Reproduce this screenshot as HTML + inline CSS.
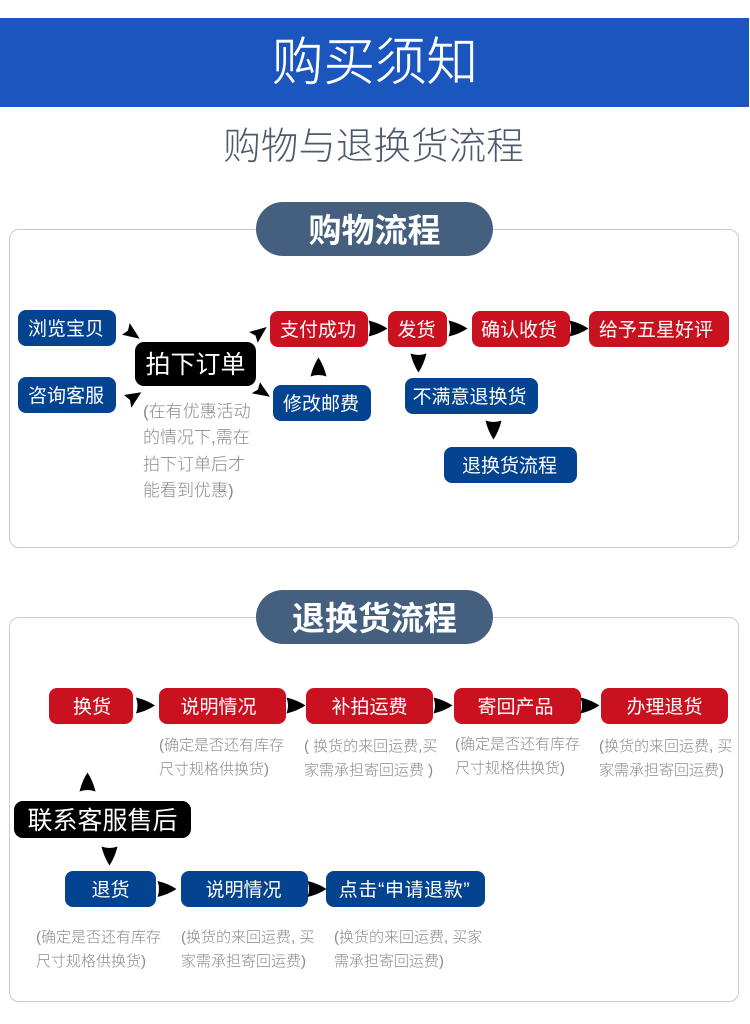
<!DOCTYPE html>
<html lang="zh">
<head>
<meta charset="utf-8">
<style>
html,body{margin:0;padding:0;background:#fff}
body{width:750px;height:1024px;position:relative;overflow:hidden;font-family:"Liberation Sans","Noto Sans CJK SC",sans-serif}
div{position:absolute;box-sizing:border-box}
.n{color:#fff;text-align:center;white-space:nowrap;border-radius:8px;font-size:19px;height:36px;line-height:39px}
.r{background:#c91120}
.b{background:#044390}
.k{background:#000;font-size:25px;border-radius:9px}
.p{left:256px;width:237px;height:54px;border-radius:27px;background:#455f7e;color:#fff;font-size:33px;font-weight:700;text-align:center;line-height:57px}
.f{left:9px;width:730px;border:1px solid #c3ccd3;border-radius:10px}
.t{color:#8a8a8a;font-size:15px;line-height:24px;white-space:nowrap;font-weight:300}
svg{position:absolute;left:0;top:0}
</style>
</head>
<body>
<div style="left:0;top:18px;width:749px;height:89px;background:#1a56be"></div>
<div style="left:0;top:18px;width:750px;height:86px;line-height:88px;text-align:center;color:#fff;font-size:51.500px;font-weight:300;-webkit-text-stroke:.4px #fff">购买须知</div>
<div style="left:0;top:121px;width:747px;height:50px;line-height:50px;text-align:center;color:#4c5a6b;font-size:37.6px;font-weight:300">购物与退换货流程</div>

<div class="f" style="top:229px;height:319px"></div>
<div class="f" style="top:617px;height:385px"></div>
<div class="p" style="top:202px">购物流程</div>
<div class="p" style="top:590px">退换货流程</div>

<div class="n b" style="left:18px;top:310px;width:98px;padding-right:2px">浏览宝贝</div>
<div class="n b" style="left:18px;top:377px;width:98px;padding-right:2px">咨询客服</div>
<div class="n k" style="left:135px;top:342px;width:121px;height:44px;line-height:47px">拍下订单</div>
<div class="n r" style="left:270px;top:311px;width:98px;padding-right:2px">支付成功</div>
<div class="n b" style="left:273px;top:385px;width:98px;padding-right:2px">修改邮费</div>
<div class="n r" style="left:388px;top:311px;width:59px;padding-right:2px">发货</div>
<div class="n r" style="left:472px;top:311px;width:98px;padding-right:4px">确认收货</div>
<div class="n r" style="left:589px;top:311px;width:140px;padding-right:6px">给予五星好评</div>
<div class="n b" style="left:405px;top:378px;width:133px;padding-right:4px">不满意退换货</div>
<div class="n b" style="left:444px;top:447px;width:133px;padding-right:2px">退换货流程</div>

<div class="t" style="left:143px;top:399px;font-size:17px;line-height:26.3px">(在有优惠活动<br>的情况下,需在<br>拍下订单后才<br>能看到优惠)</div>

<div class="n r" style="left:49px;top:688px;width:84px;padding-left:2px">换货</div>
<div class="n r" style="left:159px;top:688px;width:127px;padding-right:8px">说明情况</div>
<div class="n r" style="left:306px;top:688px;width:127px">补拍运费</div>
<div class="n r" style="left:454px;top:688px;width:127px;padding-right:4px">寄回产品</div>
<div class="n r" style="left:601px;top:688px;width:127px">办理退货</div>
<div class="n k" style="left:14px;top:801px;width:177px;height:37px;line-height:40px">联系客服售后</div>
<div class="n b" style="left:65px;top:871px;width:91px">退货</div>
<div class="n b" style="left:181px;top:871px;width:127px;padding-right:2px">说明情况</div>
<div class="n b" style="left:326px;top:871px;width:159px;padding-right:2px;letter-spacing:.6px">点击“申请退款”</div>

<div class="t" style="left:159px;top:734px">(确定是否还有库存<br>尺寸规格供换货)</div>
<div class="t" style="left:304px;top:735px">( 换货的来回运费,买<br>家需承担寄回运费 )</div>
<div class="t" style="left:455px;top:733px">(确定是否还有库存<br>尺寸规格供换货)</div>
<div class="t" style="left:599px;top:735px">(换货的来回运费, 买<br>家需承担寄回运费)</div>
<div class="t" style="left:36px;top:926px">(确定是否还有库存<br>尺寸规格供换货)</div>
<div class="t" style="left:181px;top:926px">(换货的来回运费, 买<br>家需承担寄回运费)</div>
<div class="t" style="left:334px;top:926px">(换货的来回运费, 买家<br>需承担寄回运费)</div>

<svg width="750" height="1024" viewBox="0 0 750 1024" fill="#000">
<defs><path id="a" d="M-9.500,-8 Q1,-5.500 9.500,0 Q1,5.500 -9.500,8 Q-6.500,0 -9.500,-8 Z"/></defs>
<polygon points="139.700,338.700 129.700,323 128,330.500 122,334.700"/>
<polygon points="141.300,392.300 124,395 130,400 131.300,407.700"/>
<polygon points="266.700,327 249,332 255.500,335.500 257.700,342.700"/>
<polygon points="270,396.700 260,382.300 258,389.500 251.700,393.300"/>
<use href="#a" transform="translate(318.500,367) rotate(-90)"/>
<use href="#a" transform="translate(378,328.500)"/>
<use href="#a" transform="translate(458,328.500)"/>
<use href="#a" transform="translate(579,328.500)"/>
<use href="#a" transform="translate(418.500,363) rotate(90)"/>
<use href="#a" transform="translate(493.500,430) rotate(90)"/>
<use href="#a" transform="translate(145.500,705.500)"/>
<use href="#a" transform="translate(296,705.500)"/>
<use href="#a" transform="translate(443,705.500)"/>
<use href="#a" transform="translate(590,705.500)"/>
<use href="#a" transform="translate(87.500,782) rotate(-90)"/>
<use href="#a" transform="translate(109.500,856) rotate(90)"/>
<use href="#a" transform="translate(167,889)"/>
<use href="#a" transform="translate(317,889)"/>
</svg>
</body>
</html>
